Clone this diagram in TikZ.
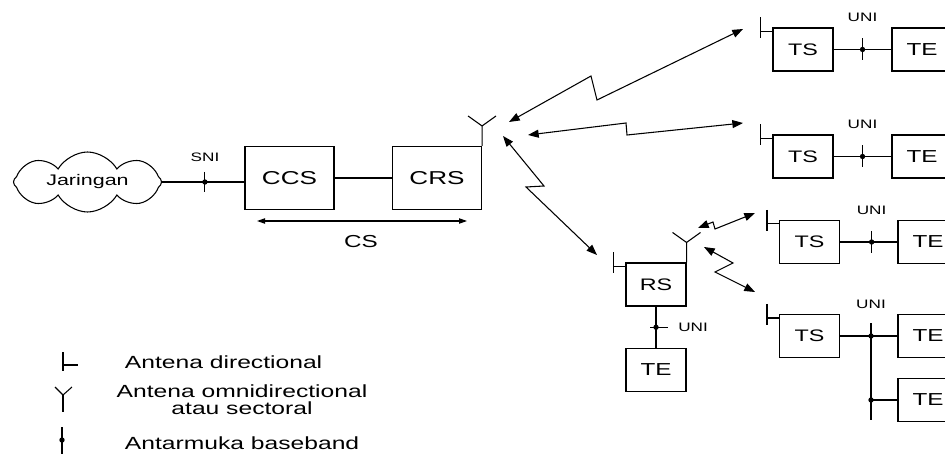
\documentclass[tikz,border=0pt]{standalone}
\usepackage{fontspec}
\setmainfont{Liberation Sans}[FakeStretch=1.4]
\usetikzlibrary{arrows.meta,shapes.symbols}

% antenna symbols, drawn on a box node
\newcommand{\dirant}[1]{\draw (#1.north west) ++(0,4) -- ++(-12,0) ++(0,-14) -- ++(0,21);}
\newcommand{\omniant}[1]{\draw (#1.north east) -- ++(0,-20) coordinate (#1-ant) -- ++(-14,-10) (#1-ant) -- ++(14,-10);}

\begin{document}
\begin{tikzpicture}[x=0.75pt,y=-0.75pt,line width=0.8pt,>={Triangle[length=8pt,width=6pt]},
  box/.style={draw,minimum width=45pt,minimum height=32.25pt,inner sep=0pt,font=\fontsize{12.5}{14}\selectfont},
  tebox/.style={box,font=\fontsize{13}{15}\selectfont},
  bigbox/.style={draw,minimum width=66.75pt,minimum height=47.25pt,inner sep=0pt,font=\fontsize{14}{16}\selectfont},
  lbl/.style={font=\fontsize{9.2}{10}\selectfont},
  legend/.style={font=\fontsize{13.2}{13}\selectfont},
  link/.style={<->},
  dot/.style={circle,fill,inner sep=0pt,minimum size=4pt}]
\useasboundingbox (0,0) rectangle (945,463);
\clip (0,0) rectangle (945,463);

% central station
\node[cloud,draw,cloud puffs=8,cloud puff arc=120,shape border rotate=22.5,cloud ignores aspect,minimum width=111pt,minimum height=45pt,inner sep=0pt,font=\fontsize{11.5}{13}\selectfont] (net) at (87.5,182) {Jaringan};
\node[bigbox] (ccs) at (289.5,178) {CCS};
\node[bigbox] (crs) at (437,178) {CRS};
\draw (net.east) -- (net.east -| ccs.west) coordinate[pos=0.52] (sni);
\draw (ccs.east) -- (crs.west);
\draw (sni) ++(0,-10) -- ++(0,20);
\node[dot] at (sni) {};
\node[lbl] (snilbl) at (205,157) {SNI};
\omniant{crs}
\coordinate (csl) at (257,221);
\coordinate (csr) at (467,221);
\draw[<->,>={Triangle[length=6pt,width=4pt]}] (csl) -- (csr);
\node[font=\fontsize{13}{15}\selectfont] (cs) at (361,242) {CS};

% terminal stations
\node[box] (ts1) at (803,49.5) {TS};
\node[tebox] (te1) at (922,49.5) {TE};
\node[box] (ts2) at (803,156.5) {TS};
\node[tebox] (te2) at (922,156.5) {TE};
\node[box] (ts3) at (809.5,242) {TS};
\node[tebox] (te3) at (928,242) {TE};
\node[box] (ts4) at (809.5,336) {TS};
\node[tebox] (te4) at (928,336) {TE};
\node[tebox] (te5) at (928,400) {TE};
\foreach \t in {ts1,ts2,ts3,ts4} {\dirant{\t}}

% repeater station
\node[box] (rs) at (656,284.5) {RS};
\node[tebox] (te6) at (656,370) {TE};
\dirant{rs}
\omniant{rs}

% user interfaces
\draw (ts1.east) -- (te1.west) coordinate[pos=0.5] (u1);
\draw (ts2.east) -- (te2.west) coordinate[pos=0.5] (u2);
\draw (ts3.east) -- (te3.west) coordinate[pos=0.55] (u3);
\draw (ts4.east) -- (te4.west);
\coordinate (u4) at (871,336);
\coordinate (u5) at (u4 |- te5.west);
\draw (u4) ++(0,-13) -- (u5) -- ++(0,20);
\draw (u5) -- (te5.west);
\foreach \u in {u1,u2,u3} {\draw (\u) ++(0,-11) -- ++(0,22);}
\foreach \u in {u1,u2,u3,u4,u5} {\node[dot] at (\u) {};}
\foreach \u in {u1,u2,u3,u4} {\node[lbl] at (\u) [yshift=24pt] {UNI};}
\draw (rs.south) -- (te6.north) coordinate[pos=0.5] (u6);
\draw (u6) ++(-6,0) -- ++(18,0);
\node[dot] at (u6) {};
\node[lbl,anchor=west] at (u6) [xshift=13pt] {UNI};

% radio links
\coordinate (c1) at (509,122);
\coordinate (t1) at (743,29);
\coordinate (c2) at (528,135);
\coordinate (t2) at (743,123);
\coordinate (c3) at (503,136);
\coordinate (r0) at (597,255);
\coordinate (r1) at (698,228);
\coordinate (t3) at (755,213);
\coordinate (r2) at (704,247);
\coordinate (t4) at (755,292);
\draw[link] (c1) -- ++(82,-46) -- ++(6,24) -- (t1);
\draw[link] (c2) -- ++(98,-12) -- ++(1,12) -- (t2);
\draw[link] (c3) -- ++(41,50) -- ++(-18,1) -- (r0);
\draw[link] (r1) -- ++(15,-6) -- ++(2,7) -- (t3);
\draw[link] (r2) -- ++(29,16) -- ++(-18,9) -- (t4);

% legend
\draw (63,352) -- (63,371);
\draw (63,365) -- (78,365);
\draw (55,387) -- (63,395) -- (72,387);
\draw (63,395) -- (63,412);
\draw (62,427) -- (62,454);
\node[dot] at (62,440) {};
\node[legend,anchor=west] (l1) at (120,362) {Antena directional};
\node[legend,align=center] (l2) at (242,400) {Antena omnidirectional\\atau sectoral};
\node[legend,anchor=west] (l3) at (120,443) {Antarmuka baseband};
\end{tikzpicture}
\end{document}
